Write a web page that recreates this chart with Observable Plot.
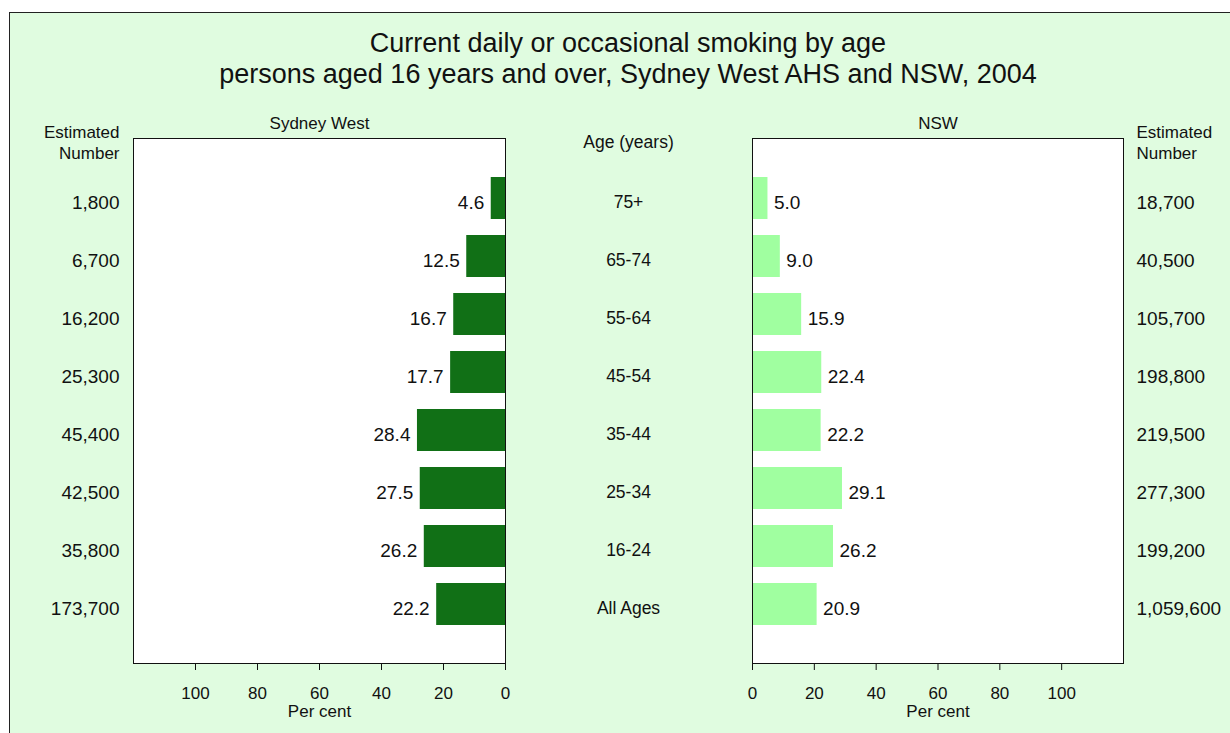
<!DOCTYPE html>
<html>
<head>
<meta charset="utf-8">
<script src="https://cdn.jsdelivr.net/npm/d3@7"></script>
<script src="https://cdn.jsdelivr.net/npm/@observablehq/plot@0.6"></script>
<style>
  html, body { margin: 0; padding: 0; background: white; }
  #wrap { position: relative; width: 1230px; height: 733px; overflow: hidden; font-family: "Liberation Sans", Arial, sans-serif; }
  #bg { position: absolute; left: 9px; top: 12px; width: 1300px; height: 800px; background: #e0fce0; border-top: 1px solid #222; border-left: 1px solid #222; }
  #title { position: absolute; left: 128px; width: 1000px; top: 28px; text-align: center; font-size: 27px; line-height: 31px; color: #111; }
  #wrap svg { position: absolute; left: 0; top: 0; }
</style>
</head>
<body>
<div id="wrap">
  <div id="bg"></div>
  <div id="title">Current daily or occasional smoking by age<br>persons aged 16 years and over, Sydney West AHS and NSW, 2004</div>
</div>
<script>
const ages = ["75+", "65-74", "55-64", "45-54", "35-44", "25-34", "16-24", "All Ages"];
const sydneyWest = [4.6, 12.5, 16.7, 17.7, 28.4, 27.5, 26.2, 22.2];
const nsw = [5.0, 9.0, 15.9, 22.4, 22.2, 29.1, 26.2, 20.9];
const swNumbers = ["1,800", "6,700", "16,200", "25,300", "45,400", "42,500", "35,800", "173,700"];
const nswNumbers = ["18,700", "40,500", "105,700", "198,800", "219,500", "277,300", "199,200", "1,059,600"];
const xTicks = [0, 20, 40, 60, 80, 100];

const sw = ages.map((age, i) => ({age, value: sydneyWest[i], est: swNumbers[i]}));
const ns = ages.map((age, i) => ({age, value: nsw[i], est: nswNumbers[i]}));

const font = "\"Liberation Sans\", Arial, sans-serif";
const common = {
  width: 1230, height: 733, marginTop: 138, marginBottom: 70,
  style: {background: "transparent", fontFamily: font, fontSize: "17px", color: "#111"},
};
const yScale = {type: "band", domain: ages, range: [166.7, 635.3], paddingInner: 0.28, paddingOuter: 0.14, axis: null};
const idt = d => d;

const left = Plot.plot({
  ...common,
  marginLeft: 133, marginRight: 725,
  x: {domain: [0, 120], reverse: true, ticks: xTicks, tickSize: 7, tickPadding: 16, label: null},
  y: yScale,
  marks: [
    Plot.frame({fill: "white"}),
    Plot.barX(sw, {x: "value", y: "age", fill: "#117016"}),
    Plot.text(sw, {x: "value", y: "age", text: d => d.value.toFixed(1), textAnchor: "end", dx: -7, dy: 4, fontSize: 19, fill: "#111"}),
    Plot.text(sw, {y: "age", text: "est", frameAnchor: "left", textAnchor: "end", dx: -14, dy: 4, fontSize: 19, fill: "#111"}),
    Plot.text(sw, {y: "age", text: "age", frameAnchor: "right", textAnchor: "middle", dx: 123, dy: 4, fontSize: 17.5, fill: "#111"}),
    Plot.text(["Estimated\nNumber"], {text: idt, frameAnchor: "top-left", textAnchor: "end", lineAnchor: "middle", dx: -14, dy: 3, lineHeight: 1.22, fontSize: 17, fill: "#111"}),
    Plot.text(["Age (years)"], {text: idt, frameAnchor: "top-right", textAnchor: "middle", lineAnchor: "middle", dx: 123, dy: 4, fontSize: 17.5, fill: "#111"}),
    Plot.text(["Sydney West"], {text: idt, frameAnchor: "top", lineAnchor: "middle", dy: -15, fontSize: 17, fill: "#111"}),
    Plot.text(["Per cent"], {text: idt, frameAnchor: "bottom", lineAnchor: "middle", dy: 48, fontSize: 17, fill: "#111"}),
    Plot.frame({stroke: "#111"})
  ]
});

const right = Plot.plot({
  ...common,
  marginLeft: 752, marginRight: 107,
  x: {domain: [0, 120], ticks: xTicks, tickSize: 7, tickPadding: 16, label: null},
  y: yScale,
  marks: [
    Plot.frame({fill: "white"}),
    Plot.barX(ns, {x: "value", y: "age", fill: "#a0ffa0"}),
    Plot.text(ns, {x: "value", y: "age", text: d => d.value.toFixed(1), textAnchor: "start", dx: 6, dy: 4, fontSize: 19, fill: "#111"}),
    Plot.text(ns, {y: "age", text: "est", frameAnchor: "right", textAnchor: "start", dx: 13, dy: 4, fontSize: 19, fill: "#111"}),
    Plot.text(["Estimated\nNumber"], {text: idt, frameAnchor: "top-right", textAnchor: "start", lineAnchor: "middle", dx: 13, dy: 3, lineHeight: 1.22, fontSize: 17, fill: "#111"}),
    Plot.text(["NSW"], {text: idt, frameAnchor: "top", lineAnchor: "middle", dy: -15, fontSize: 17, fill: "#111"}),
    Plot.text(["Per cent"], {text: idt, frameAnchor: "bottom", lineAnchor: "middle", dy: 48, fontSize: 17, fill: "#111"}),
    Plot.frame({stroke: "#111"})
  ]
});

const wrap = document.getElementById("wrap");
wrap.appendChild(left);
wrap.appendChild(right);
</script>
</body>
</html>
